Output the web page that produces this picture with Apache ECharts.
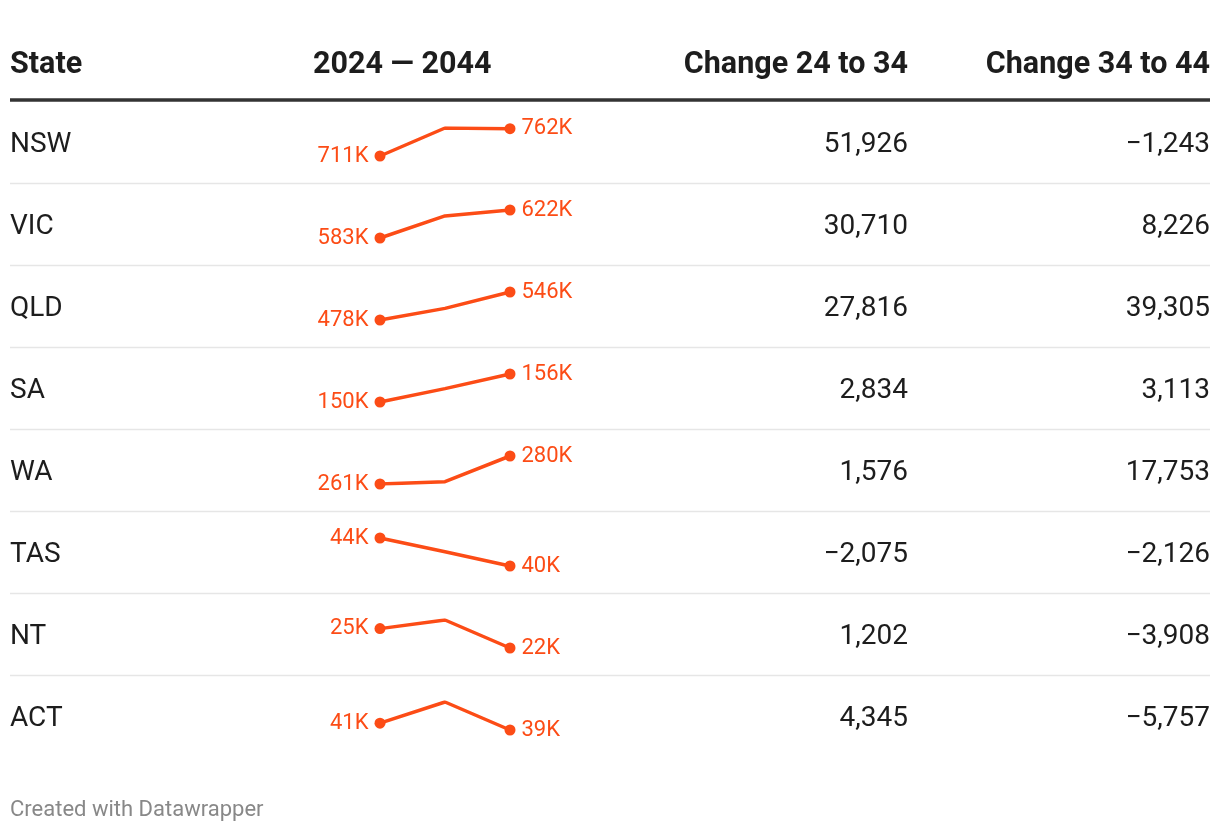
<!DOCTYPE html>
<html>
<head>
<meta charset="utf-8">
<script src="https://cdn.jsdelivr.net/npm/echarts@6/dist/echarts.min.js"></script>
<style>
html,body{margin:0;padding:0;background:#fff;}
#chart{width:1220px;height:832px;}
</style>
</head>
<body>
<div id="chart"></div>
<script>
const headers = ['State', '2024 \u2014 2044', 'Change 24 to 34', 'Change 34 to 44'];
const states = ['NSW', 'VIC', 'QLD', 'SA', 'WA', 'TAS', 'NT', 'ACT'];
const years = ['2024', '2034', '2044'];
const pop2024 = [711400, 583400, 478400, 150200, 261000, 44300, 24900, 40800];
const pop2034 = [763326, 614110, 506216, 153034, 262576, 42225, 26102, 45145];
const pop2044 = [762083, 622336, 545521, 156147, 280329, 40099, 22194, 39388];
const change24to34 = [51926, 30710, 27816, 2834, 1576, -2075, 1202, 4345];
const change34to44 = [-1243, 8226, 39305, 3113, 17753, -2126, -3908, -5757];
const footer = 'Created with Datawrapper';

const FONT = 'Roboto, "Noto Sans", sans-serif';
const ACCENT = '#fc4c16';
const TEXT = '#1d1d1d';
const headY = 65, ruleY = 100, rowH = 82;
const rowCenter = i => ruleY + 1 + rowH / 2 + i * rowH;

function fmt(n) {
  const s = Math.abs(n).toLocaleString('en-US');
  return (n < 0 ? '\u2212' : '') + s;
}

const grids = [], xAxes = [], yAxes = [], series = [];
states.forEach((s, i) => {
  const vals = [pop2024[i], pop2034[i], pop2044[i]];
  const c = rowCenter(i);
  grids.push({ left: 380, width: 130, top: c - 14, height: 28 });
  xAxes.push({ type: 'category', gridIndex: i, data: years, boundaryGap: false, show: false });
  yAxes.push({ type: 'value', gridIndex: i, min: Math.min(...vals), max: Math.max(...vals), show: false, splitLine: { show: false } });
  series.push({
    type: 'line', xAxisIndex: i, yAxisIndex: i,
    data: vals.map((v, k) => {
      const pt = { value: v };
      if (k === 0) {
        pt.symbolSize = 11;
        pt.label = { show: true, position: 'left', distance: 6 };
      } else if (k === vals.length - 1) {
        pt.symbolSize = 11;
        pt.label = { show: true, position: 'right', distance: 6 };
      } else {
        pt.symbolSize = 0;
        pt.symbol = 'none';
      }
      return pt;
    }),
    symbol: 'circle',
    showAllSymbol: true,
    lineStyle: { color: ACCENT, width: 3.5 },
    itemStyle: { color: ACCENT },
    label: {
      color: ACCENT, fontFamily: FONT, fontSize: 22,
      formatter: p => Math.round(p.value / 1000) + 'K'
    },
    silent: true, animation: false
  });
});

const graphics = [];
const hStyle = { fontFamily: FONT, fontSize: 30.5, fontWeight: 'bold', fill: TEXT, textVerticalAlign: 'middle' };
graphics.push({ type: 'text', x: 10, y: headY, style: Object.assign({}, hStyle, { text: headers[0], textAlign: 'left' }) });
graphics.push({ type: 'text', x: 313, y: headY, style: Object.assign({}, hStyle, { text: headers[1], textAlign: 'left' }) });
graphics.push({ type: 'text', x: 908, y: headY, style: Object.assign({}, hStyle, { text: headers[2], textAlign: 'right' }) });
graphics.push({ type: 'text', x: 1210, y: headY, style: Object.assign({}, hStyle, { text: headers[3], textAlign: 'right' }) });
graphics.push({ type: 'line', shape: { x1: 10, y1: ruleY, x2: 1210, y2: ruleY }, style: { stroke: '#333', lineWidth: 3.5 } });

const bStyle = { fontFamily: FONT, fontSize: 28, fill: TEXT, textVerticalAlign: 'middle' };
states.forEach((s, i) => {
  const c = rowCenter(i) + 3;
  graphics.push({ type: 'text', x: 10, y: c, style: Object.assign({}, bStyle, { text: s, textAlign: 'left' }) });
  graphics.push({ type: 'text', x: 908, y: c, style: Object.assign({}, bStyle, { text: fmt(change24to34[i]), textAlign: 'right' }) });
  graphics.push({ type: 'text', x: 1210, y: c, style: Object.assign({}, bStyle, { text: fmt(change34to44[i]), textAlign: 'right' }) });
  if (i < states.length - 1) {
    const ly = ruleY + 1 + (i + 1) * rowH + 0.5;
    graphics.push({ type: 'line', shape: { x1: 10, y1: ly, x2: 1210, y2: ly }, style: { stroke: '#e6e6e6', lineWidth: 1.5 } });
  }
});
graphics.push({ type: 'text', x: 10, y: 810, style: { text: footer, fontFamily: FONT, fontSize: 22, fill: '#888', textAlign: 'left', textVerticalAlign: 'middle' } });

const chart = echarts.init(document.getElementById('chart'), null, { renderer: 'canvas' });
chart.setOption({
  backgroundColor: '#fff',
  animation: false,
  grid: grids, xAxis: xAxes, yAxis: yAxes, series: series,
  graphic: { elements: graphics }
});
</script>
</body>
</html>
